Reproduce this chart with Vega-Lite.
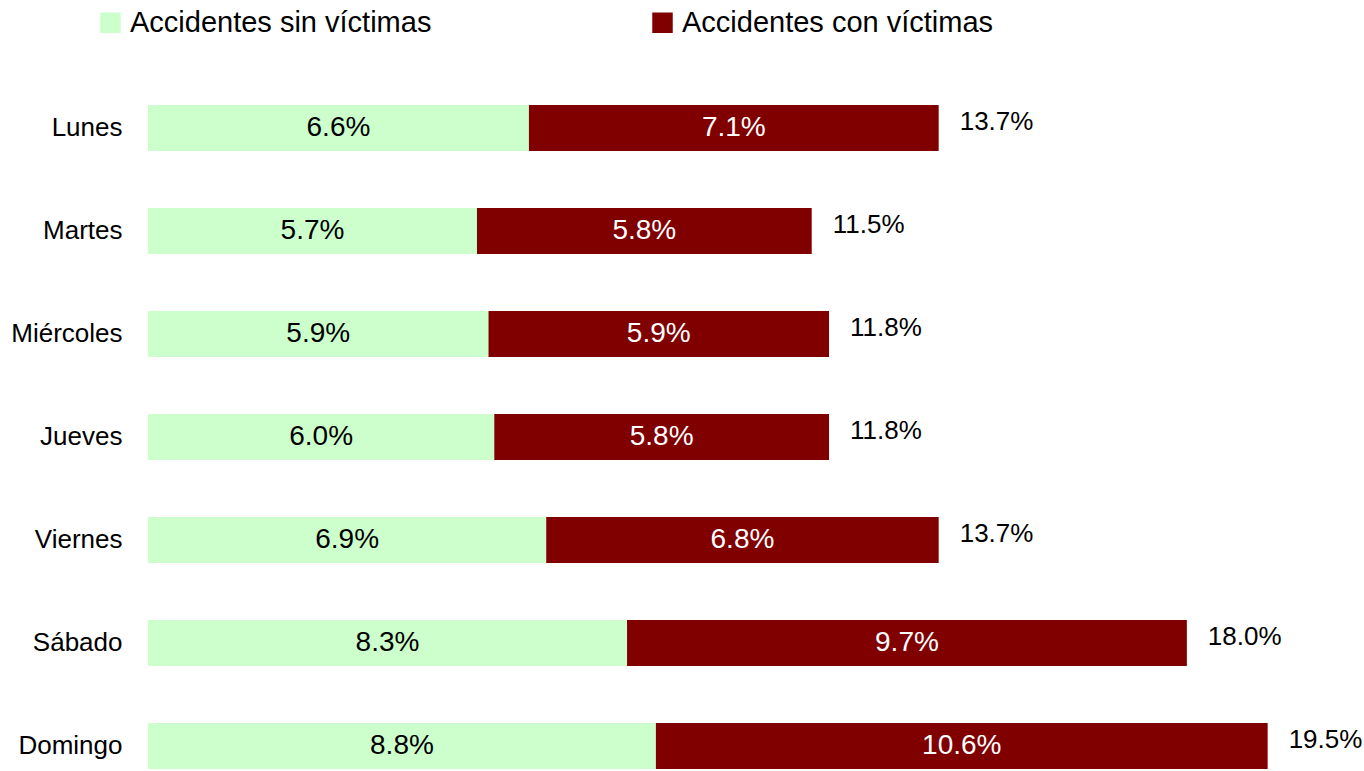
{
  "$schema": "https://vega.github.io/schema/vega-lite/v6.json",
  "width": 1212,
  "height": 664,
  "autosize": {"type": "none"},
  "padding": {"left": 148, "top": 105, "right": 4, "bottom": 2},
  "background": "white",
  "config": {"view": {"stroke": null}, "font": "Liberation Sans"},
  "datasets": {
    "partes": [
      {"dia": "Lunes", "tipo": "Accidentes sin víctimas", "valor": 6.6},
      {"dia": "Lunes", "tipo": "Accidentes con víctimas", "valor": 7.1},
      {"dia": "Martes", "tipo": "Accidentes sin víctimas", "valor": 5.7},
      {"dia": "Martes", "tipo": "Accidentes con víctimas", "valor": 5.8},
      {"dia": "Miércoles", "tipo": "Accidentes sin víctimas", "valor": 5.9},
      {"dia": "Miércoles", "tipo": "Accidentes con víctimas", "valor": 5.9},
      {"dia": "Jueves", "tipo": "Accidentes sin víctimas", "valor": 6.0},
      {"dia": "Jueves", "tipo": "Accidentes con víctimas", "valor": 5.8},
      {"dia": "Viernes", "tipo": "Accidentes sin víctimas", "valor": 6.9},
      {"dia": "Viernes", "tipo": "Accidentes con víctimas", "valor": 6.8},
      {"dia": "Sábado", "tipo": "Accidentes sin víctimas", "valor": 8.3},
      {"dia": "Sábado", "tipo": "Accidentes con víctimas", "valor": 9.7},
      {"dia": "Domingo", "tipo": "Accidentes sin víctimas", "valor": 8.8},
      {"dia": "Domingo", "tipo": "Accidentes con víctimas", "valor": 10.6}
    ],
    "totales": [
      {"dia": "Lunes", "total": 13.7, "fin": 13.7},
      {"dia": "Martes", "total": 11.5, "fin": 11.5},
      {"dia": "Miércoles", "total": 11.8, "fin": 11.8},
      {"dia": "Jueves", "total": 11.8, "fin": 11.8},
      {"dia": "Viernes", "total": 13.7, "fin": 13.7},
      {"dia": "Sábado", "total": 18.0, "fin": 18.0},
      {"dia": "Domingo", "total": 19.5, "fin": 19.4}
    ]
  },
  "encoding": {
    "y": {
      "field": "dia",
      "type": "nominal",
      "sort": ["Lunes", "Martes", "Miércoles", "Jueves", "Viernes", "Sábado", "Domingo"],
      "scale": {"paddingInner": 0.553, "paddingOuter": 0},
      "axis": {"title": null, "ticks": false, "domain": false, "labelFontSize": 26, "labelColor": "black", "labelPadding": 26, "labelFont": "Liberation Sans"}
    }
  },
  "layer": [
    {
      "data": {"name": "partes"},
      "transform": [
        {"stack": "valor", "groupby": ["dia"], "sort": [{"field": "tipo", "order": "descending"}], "as": ["ini", "fin"]},
        {"calculate": "(datum.ini + datum.fin) / 2", "as": "medio"},
        {"calculate": "format(datum.valor, '.1f') + '%'", "as": "etiqueta"}
      ],
      "layer": [
        {
          "mark": {"type": "bar"},
          "encoding": {
            "x": {"field": "ini", "type": "quantitative", "scale": {"domain": [0, 21], "nice": false}, "axis": null},
            "x2": {"field": "fin"},
            "color": {
              "field": "tipo",
              "type": "nominal",
              "sort": ["Accidentes sin víctimas", "Accidentes con víctimas"],
              "scale": {"domain": ["Accidentes sin víctimas", "Accidentes con víctimas"], "range": ["#CCFFCC", "#800000"]},
              "legend": {
                "title": null,
                "orient": "none",
                "direction": "horizontal",
                "legendX": -52,
                "legendY": -97,
                "padding": 0,
                "symbolType": "square",
                "symbolSize": 420,
                "symbolStrokeWidth": 0,
                "labelFontSize": 29,
                "labelColor": "black",
                "labelOffset": 5,
                "columnPadding": 216,
                "labelLimit": 500
              }
            }
          }
        },
        {
          "mark": {"type": "text", "fontSize": 28, "align": "center", "baseline": "middle"},
          "encoding": {
            "x": {"field": "medio", "type": "quantitative"},
            "text": {"field": "etiqueta", "type": "nominal"},
            "color": {
              "condition": {"test": "datum.tipo === 'Accidentes con víctimas'", "value": "white"},
              "value": "black"
            }
          }
        }
      ]
    },
    {
      "data": {"name": "totales"},
      "transform": [
        {"calculate": "format(datum.total, '.1f') + '%'", "as": "etiqueta"}
      ],
      "mark": {"type": "text", "fontSize": 26, "align": "left", "baseline": "middle", "dx": 21, "dy": -6, "color": "black"},
      "encoding": {
        "x": {"field": "fin", "type": "quantitative"},
        "text": {"field": "etiqueta", "type": "nominal"}
      }
    }
  ]
}
